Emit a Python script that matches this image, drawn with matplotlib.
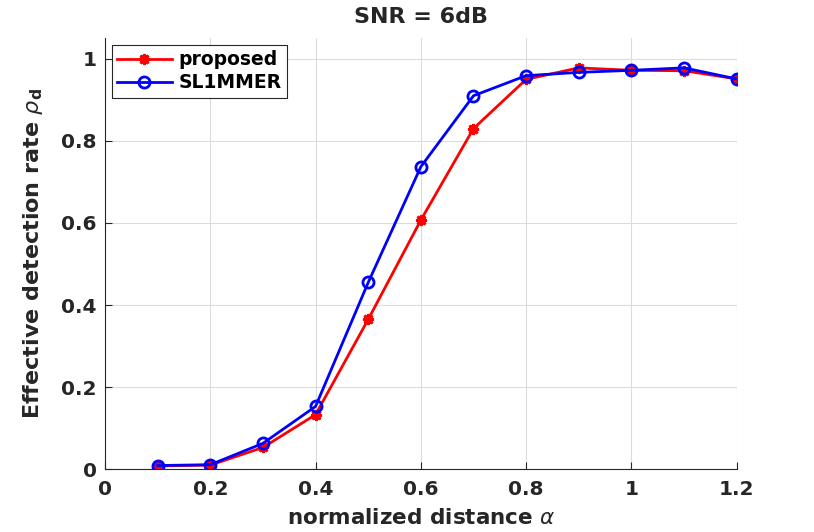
import matplotlib.pyplot as plt
import numpy as np

alpha = [0.1, 0.2, 0.3, 0.4, 0.5, 0.6, 0.7, 0.8, 0.9, 1.0, 1.1, 1.2]
proposed = [0.008, 0.010, 0.053, 0.133, 0.365, 0.607, 0.830, 0.950, 0.978, 0.972, 0.971, 0.951]
sl1mmer = [0.009, 0.011, 0.063, 0.153, 0.455, 0.737, 0.910, 0.959, 0.967, 0.972, 0.978, 0.951]

xticks = [0, 0.2, 0.4, 0.6, 0.8, 1, 1.2]
yticks = [0, 0.2, 0.4, 0.6, 0.8, 1]

plt.rcParams['font.family'] = 'DejaVu Sans'
plt.rcParams['font.weight'] = 'bold'
plt.rcParams['mathtext.fontset'] = 'custom'
plt.rcParams['mathtext.it'] = 'DejaVu Sans:italic:normal'
plt.rcParams['mathtext.rm'] = 'DejaVu Sans:normal'
plt.rcParams['mathtext.bf'] = 'DejaVu Sans:bold'

fig = plt.figure(figsize=(8.14, 5.32), dpi=100)
ax = fig.add_axes([0.129, 0.118, 0.776, 0.810])

ax.plot(alpha, proposed, color='red', lw=2, marker=(8, 2, 0), ms=8, mew=2, label='proposed')
ax.plot(alpha, sl1mmer, color='blue', lw=2, marker='o', ms=8, mfc='none', mew=2, label='SL1MMER')

ax.set_xlim(0, 1.2)
ax.set_ylim(0, 1.05)
ax.set_xticks(xticks)
ax.set_xticklabels(['0', '0.2', '0.4', '0.6', '0.8', '1', '1.2'])
ax.set_yticks(yticks)
ax.set_yticklabels(['0', '0.2', '0.4', '0.6', '0.8', '1'])
ax.tick_params(direction='in', labelsize=14.5, colors='#262626', length=5, width=0.8)
ax.tick_params(axis='x', pad=8)
ax.tick_params(axis='y', pad=6)
for lab in ax.get_xticklabels() + ax.get_yticklabels():
    lab.set_fontweight('bold')

ax.spines['top'].set_visible(False)
ax.spines['right'].set_visible(False)
ax.spines['left'].set_color('#262626')
ax.spines['bottom'].set_color('#262626')
ax.grid(True, color='#dcdcdc', lw=0.8)
ax.set_axisbelow(True)

ax.set_xlabel(r'normalized distance $\alpha$', fontsize=15.5, fontweight='bold', color='#262626', labelpad=6)
ax.set_ylabel(r'Effective detection rate $\rho_\mathbf{d}$', fontsize=16, fontweight='bold', color='#262626', labelpad=12)
ax.set_title('SNR = 6dB', fontsize=16, fontweight='bold', color='#262626', pad=11)

leg = ax.legend(loc='upper left', prop={'weight': 'bold', 'size': 13.5},
                fancybox=False, edgecolor='#262626', framealpha=1,
                borderpad=0.3, handlelength=2.9, handletextpad=0.35,
                labelspacing=0.2, borderaxespad=0.35)
leg.get_frame().set_linewidth(0.8)

fig.savefig('out.png', dpi=100)
